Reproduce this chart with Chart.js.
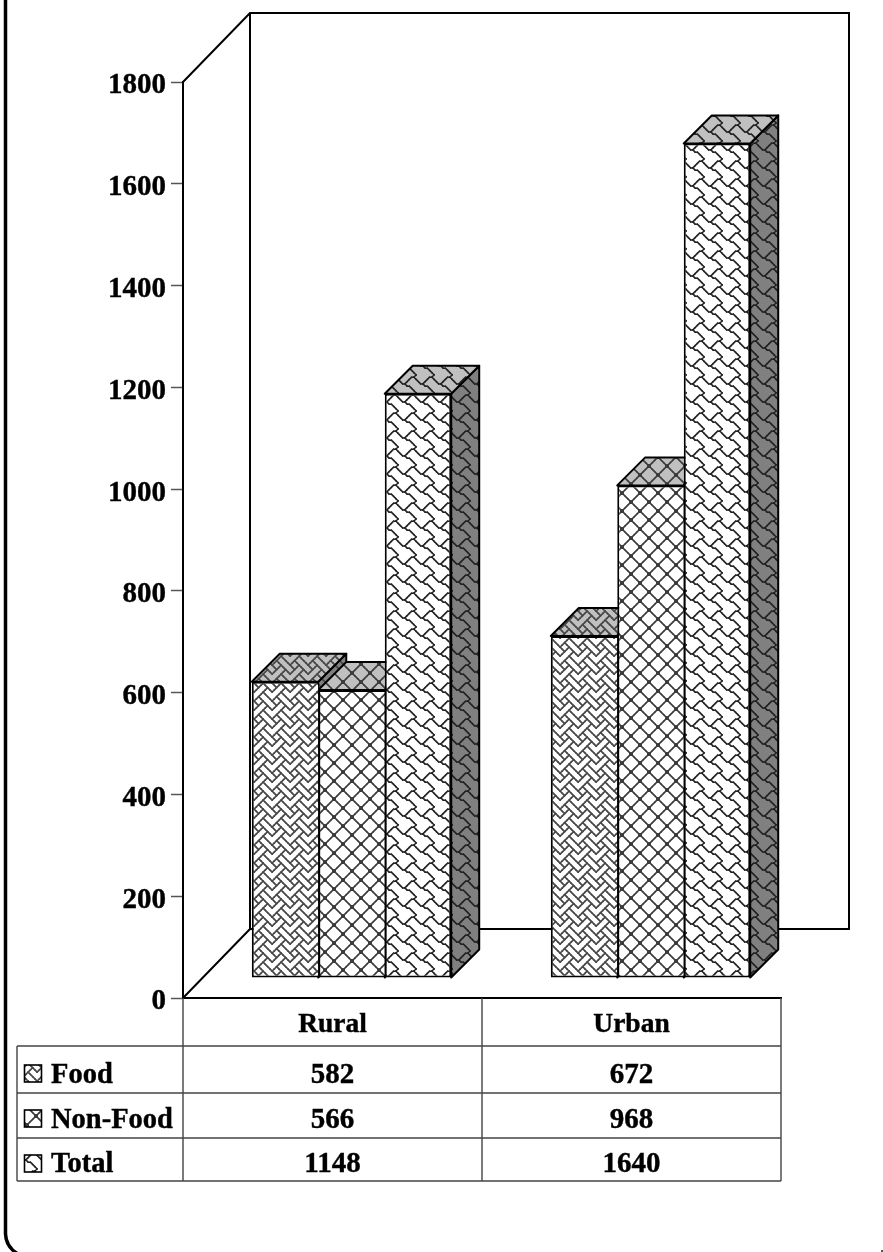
<!DOCTYPE html>
<html>
<head>
<meta charset="utf-8">
<title>Rural / Urban</title>
<style>
  html, body { margin: 0; padding: 0; background: #fff; }
  canvas { display: block; }
</style>
<script src="https://cdn.jsdelivr.net/npm/chart.js@4"></script>
</head>
<body>
<canvas id="chart" width="883" height="1252"></canvas>
<script>
// ── Data ─────────────────────────────────────────────────────────────────────
const categories = ['Rural', 'Urban'];
const seriesNames = ['Food', 'Non-Food', 'Total'];
const food = [582, 672];
const nonFood = [566, 968];
const total = [1148, 1640];

// 8x8 hatch bitmaps, one byte a row
const weaveBits = [0x88, 0x54, 0x22, 0x45, 0x88, 0x14, 0x22, 0x51];
const crossBits = [0x81, 0x42, 0x24, 0x18, 0x18, 0x24, 0x42, 0x81];
const shingleBits = [0x03, 0x84, 0x48, 0x30, 0x0c, 0x02, 0x01, 0x80];

const FONT = '"Liberation Serif", "Times New Roman", serif';
const NUM_SIZE = 29;
const LABEL_SIZE = 28.5;

// Geometry
const WALL = { dx: 67, dy: 69 };   // floor/back wall shift
const BAR_SHIFT = { x: 19, y: 20 };  // bars sit forward of the front plane
const BAR_DEPTH = 28;
const TILE = 18;

// ── Patterns ─────────────────────────────────────────────────────────────────
// Joins neighbouring set bits with short strokes so the hatch reads like the
// scaled-up, slightly soft original instead of hard squares.
function makePattern(bits, bg, ink, width) {
  const tile = document.createElement('canvas');
  tile.width = tile.height = TILE;
  const c = tile.getContext('2d');
  c.fillStyle = bg;
  c.fillRect(0, 0, TILE, TILE);
  c.strokeStyle = ink;
  c.lineWidth = width;
  c.lineCap = 'round';
  const cell = TILE / 8;
  const on = (x, y) => bits[(y + 8) % 8] & (0x80 >> ((x + 8) % 8));
  for (let y = 0; y < 8; y++) {
    for (let x = 0; x < 8; x++) {
      if (!on(x, y)) continue;
      [[1, 0], [0, 1], [1, 1], [-1, 1]].forEach(([dx, dy]) => {
        if (!on(x + dx, y + dy)) return;
        for (let ox = -TILE; ox <= TILE; ox += TILE) {
          for (let oy = -TILE; oy <= TILE; oy += TILE) {
            c.beginPath();
            c.moveTo((x + 0.5) * cell + ox, (y + 0.5) * cell + oy);
            c.lineTo((x + dx + 0.5) * cell + ox, (y + dy + 0.5) * cell + oy);
            c.stroke();
          }
        }
      });
    }
  }
  return c.createPattern(tile, 'repeat');
}

const hatch = [weaveBits, crossBits, shingleBits];
const inks = ['#484848', '#3c3c3c', '#222'];
const inkWidths = [1.6, 1.5, 1.5];
const fillsOn = bg => hatch.map((b, i) => makePattern(b, bg, inks[i], inkWidths[i]));
const frontFill = fillsOn('#ffffff');
const topFill = fillsOn('#c0c0c0');
const sideFill = fillsOn('#808080');

// Chart.js insets borders, so each bar only draws its left edge and the last
// one closes the group
const barBorders = [
  { left: 2, right: 0, top: 2, bottom: 2 },
  { left: 2, right: 0, top: 2, bottom: 2 },
  { left: 2, right: 2, top: 2, bottom: 2 },
];

function poly(ctx, pts, fill) {
  ctx.beginPath();
  pts.forEach((p, i) => i ? ctx.lineTo(p[0], p[1]) : ctx.moveTo(p[0], p[1]));
  ctx.closePath();
  ctx.fillStyle = fill;
  ctx.fill();
  ctx.stroke();
}

// ── Plugin: frame, back wall, bar tops/sides, data table ─────────────────────
const scene = {
  id: 'scene',
  beforeDatasetsDraw(chart) {
    const ctx = chart.ctx;
    const a = chart.chartArea;

    ctx.save();
    ctx.strokeStyle = '#000';
    ctx.lineWidth = 2;
    ctx.beginPath();
    ctx.moveTo(a.left, a.top);
    ctx.lineTo(a.left + WALL.dx, a.top - WALL.dy);
    ctx.lineTo(849, a.top - WALL.dy);
    ctx.lineTo(849, a.bottom - WALL.dy);
    ctx.lineTo(a.left + WALL.dx, a.bottom - WALL.dy);
    ctx.lineTo(a.left + WALL.dx, a.top - WALL.dy);
    ctx.moveTo(a.left + WALL.dx, a.bottom - WALL.dy);
    ctx.lineTo(a.left, a.bottom);
    ctx.stroke();
    ctx.restore();

    // Everything in the bar plane stays shifted until afterDatasetsDraw
    ctx.save();
    ctx.translate(BAR_SHIFT.x, -BAR_SHIFT.y);
    ctx.strokeStyle = '#000';
    ctx.lineWidth = 2;
    ctx.lineJoin = 'round';
    chart.data.datasets.forEach((ds, i) => {
      chart.getDatasetMeta(i).data.forEach(el => {
        const l = el.x - el.width / 2;
        const r = el.x + el.width / 2;
        const d = BAR_DEPTH;
        poly(ctx, [[r, el.y], [r + d, el.y - d], [r + d, el.base - d], [r, el.base]], sideFill[i]);
        poly(ctx, [[l, el.y], [l + d, el.y - d], [r + d, el.y - d], [r, el.y]], topFill[i]);
      });
    });
  },
  afterDatasetsDraw(chart) {
    chart.ctx.restore();
  },
  afterDraw(chart) {
    const ctx = chart.ctx;
    const a = chart.chartArea;
    const rows = [1046, 1093, 1138, 1181];
    const tableLeft = 17;
    const x = chart.scales.x;
    const mid = (x.getPixelForValue(0) + x.getPixelForValue(1)) / 2;

    ctx.save();
    ctx.strokeStyle = '#444';
    ctx.lineWidth = 1.4;
    ctx.beginPath();
    rows.forEach(y => { ctx.moveTo(tableLeft, y); ctx.lineTo(a.right, y); });
    ctx.moveTo(tableLeft, rows[0]); ctx.lineTo(tableLeft, rows[3]);
    ctx.moveTo(a.left, a.bottom); ctx.lineTo(a.left, rows[3]);
    ctx.moveTo(mid, a.bottom); ctx.lineTo(mid, rows[3]);
    ctx.moveTo(a.right, a.bottom); ctx.lineTo(a.right, rows[3]);
    ctx.stroke();

    ctx.textBaseline = 'alphabetic';
    const baselines = [1083, 1128, 1172];
    chart.data.datasets.forEach((ds, i) => {
      // legend key + series name
      const top = [1065, 1110, 1155][i];
      ctx.fillStyle = frontFill[i];
      ctx.strokeStyle = '#000';
      ctx.lineWidth = 1.6;
      ctx.fillRect(24.5, top, 17, 17);
      ctx.strokeRect(24.5, top, 17, 17);
      ctx.fillStyle = '#000';
      ctx.lineWidth = 0.4;
      ctx.textAlign = 'left';
      ctx.font = 'bold ' + LABEL_SIZE + 'px ' + FONT;
      ctx.fillText(ds.label, 51, baselines[i]);
      ctx.strokeText(ds.label, 51, baselines[i]);
      ctx.textAlign = 'center';
      ctx.font = 'bold ' + NUM_SIZE + 'px ' + FONT;
      ds.data.forEach((v, j) => {
        ctx.fillText(String(v), x.getPixelForValue(j), baselines[i]);
        ctx.strokeText(String(v), x.getPixelForValue(j), baselines[i]);
      });
    });

    // page frame, rounded corner runs off the picture
    ctx.strokeStyle = '#000';
    ctx.lineWidth = 3.5;
    ctx.beginPath();
    ctx.moveTo(5.5, 0);
    ctx.lineTo(5.5, 1234);
    ctx.quadraticCurveTo(6, 1247, 18, 1254);
    ctx.stroke();
    ctx.fillStyle = '#555';
    ctx.fillRect(881, 1250, 2, 2);
    ctx.restore();
  }
};

// ── Chart ────────────────────────────────────────────────────────────────────
const values = [food, nonFood, total];

new Chart(document.getElementById('chart'), {
  type: 'bar',
  data: {
    labels: categories,
    datasets: seriesNames.map((name, i) => ({
      label: name,
      data: values[i],
      backgroundColor: frontFill[i],
      borderColor: '#000',
      borderWidth: barBorders[i],
      borderSkipped: false,
      barPercentage: 1,
      categoryPercentage: 0.667,
      clip: false,
    }))
  },
  options: {
    responsive: false,
    animation: false,
    devicePixelRatio: 1,
    layout: { padding: { left: 0, right: 102, top: 82, bottom: 206 } },
    plugins: { legend: { display: false }, tooltip: { enabled: false } },
    scales: {
      x: {
        afterFit: s => { s.height = 48; },
        grid: { display: false },
        border: { display: true, color: '#000', width: 2 },
        ticks: {
          color: '#000',
          padding: 2,
          textStrokeColor: '#000',
          textStrokeWidth: 0.4,
          font: { family: FONT, size: 27.5, weight: 'bold' },
        },
      },
      y: {
        min: 0,
        max: 1800,
        afterFit: s => { s.width = 183; },
        grid: { drawOnChartArea: false, tickLength: 12, tickColor: '#555', tickWidth: 1.5 },
        border: { color: '#000', width: 2 },
        ticks: {
          stepSize: 200,
          color: '#000',
          padding: 5,
          textStrokeColor: '#000',
          textStrokeWidth: 0.4,
          // blank first line with a small line height nudges the digits down 4px
          callback: v => ['', String(v)],
          font: { family: FONT, size: NUM_SIZE, weight: 'bold', lineHeight: 8 / NUM_SIZE },
        },
      },
    },
  },
  plugins: [scene],
});
</script>
</body>
</html>
